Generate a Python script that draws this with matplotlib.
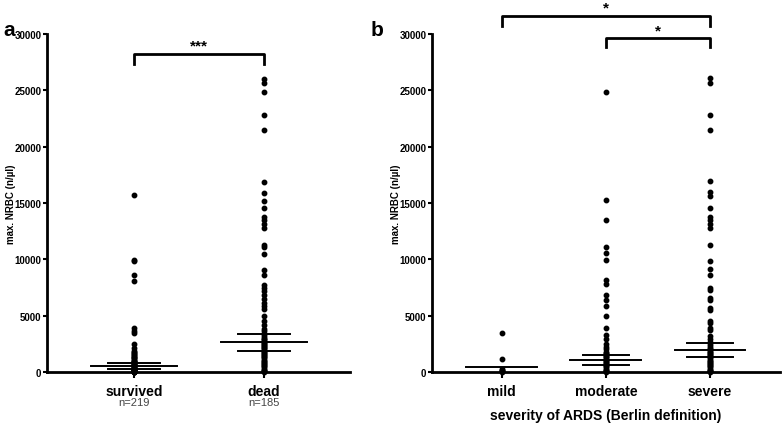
import numpy as np
import matplotlib
matplotlib.use("Agg")
import matplotlib.pyplot as plt

plt.rcParams['font.family'] = ['Liberation Sans', 'DejaVu Sans']

# ---- panel a: outcome ----
outcome_groups = ['survived', 'dead']
outcome_n = ['n=219', 'n=185']
survived = [15680, 9920, 9830, 8580, 8110, 3880, 3670, 3430, 2490,
            2100, 1900, 1800, 1700, 1600, 1500, 1400, 1300, 1250, 1200,
            1100, 1000, 950, 900, 850, 800, 750, 700, 650, 600, 550, 500,
            450, 400, 350, 300, 250, 200, 180, 150, 120, 100, 80, 60, 50,
            40, 30, 20, 10, 0]
dead = [26000, 25620, 24820, 22780, 21450, 16860, 15920, 15210, 14530,
        13730, 13520, 13140, 12760, 11300, 11060, 10470, 9080, 8580,
        7750, 7460, 7160, 6860, 6480, 6120, 5830, 5590, 5000, 4530, 4200,
        3820, 3600, 3400, 3200, 3000, 2900, 2800, 2700, 2600, 2500, 2400,
        2300, 2200, 2100, 2000, 1900, 1800, 1700, 1600, 1500, 1400, 1300,
        1200, 1100, 1000, 900, 800, 700, 600, 500, 400, 300, 200, 100,
        50, 0]
outcome_mean = [510, 2640]
outcome_sem = [250, 740]

# ---- panel b: ARDS severity ----
severity_groups = ['mild', 'moderate', 'severe']
mild = [3430, 1150, 300, 200, 100, 50, 0]
moderate = [24880, 15240, 13460, 11120, 10530, 9970, 8170, 7780, 6860,
            6360, 5860, 4970, 3880, 3280, 2930, 2490, 2190, 2000, 1800,
            1700, 1600, 1500, 1400, 1300, 1200, 1100, 1000, 900, 800, 700,
            600, 500, 400, 300, 200, 100, 50, 0]
severe = [26100, 25620, 22840, 21510, 16920, 16010, 15650, 14590, 13730,
          13520, 13110, 12780, 11300, 9850, 9140, 8580, 7480, 7280, 6570,
          6360, 5710, 5470, 4500, 4320, 3900, 3700, 3170, 2930, 2700, 2500,
          2300, 2100, 2000, 1900, 1800, 1700, 1600, 1500, 1400, 1300, 1200,
          1100, 1000, 900, 800, 700, 600, 500, 400, 300, 200, 100, 50, 0]
severity_mean = [440, 1090, 1980]
severity_sem = [0, 460, 630]

ylabel = 'max. NRBC (n/\u00b5l)'


def style_axis(ax, xlim):
    ax.set_xlim(*xlim)
    ax.set_ylim(0, 30000)
    ax.set_yticks([0, 5000, 10000, 15000, 20000, 25000, 30000])
    for s in ['top', 'right']:
        ax.spines[s].set_visible(False)
    ax.spines['left'].set_linewidth(2)
    ax.spines['bottom'].set_linewidth(2)
    ax.spines['left'].set_bounds(0, 30000)
    ax.tick_params(axis='y', direction='out', length=3, width=1.5,
                   labelsize=7, pad=1)
    ax.tick_params(axis='x', direction='out', length=4, width=1.5,
                   labelsize=10, pad=4.5)
    for lab in ax.get_yticklabels():
        lab.set_fontweight('bold')
    ax.set_ylabel(ylabel, fontsize=7, fontweight='bold', labelpad=-1)


def scatter_col(ax, x, vals, mean, sem, mw=0.33, sw=0.2):
    ax.plot([x] * len(vals), vals, 'o', color='black', ms=3.2,
            mec='black', clip_on=False, zorder=3)
    ax.plot([x - mw, x + mw], [mean, mean], color='black', lw=1.4, zorder=4)
    if sem > 0:
        for v in (mean - sem, mean + sem):
            ax.plot([x - sw, x + sw], [v, v], color='black', lw=1.4, zorder=4)


def bracket(ax, x0, x1, y, drop, label, ty):
    ax.plot([x0, x0, x1, x1], [y - drop, y, y, y - drop], color='black',
            lw=2, clip_on=False)
    ax.text((x0 + x1) / 2, ty, label, ha='center', va='center',
            fontsize=11, fontweight='bold', clip_on=False)


fig = plt.figure(figsize=(7.82, 4.27), dpi=100)
ax1 = fig.add_axes([0.060, 0.1265, 0.3876, 0.7915])
ax2 = fig.add_axes([0.5524, 0.1265, 0.4446, 0.7915])

# panel a
style_axis(ax1, (-0.67, 1.66))
for i, vals in enumerate([survived, dead]):
    scatter_col(ax1, i, vals, outcome_mean[i], outcome_sem[i])
ax1.set_xticks([0, 1])
ax1.set_xticklabels(outcome_groups, fontweight='bold')
for i, n in enumerate(outcome_n):
    ax1.text(i, -0.09, n, transform=ax1.get_xaxis_transform(), ha='center',
             va='center', fontsize=8, color='#444444')
bracket(ax1, 0, 1, 28230, 900, '***', 29000)
fig.text(0.004, 0.915, 'a', fontsize=15, fontweight='bold')

# panel b
style_axis(ax2, (-0.67, 2.67))
for i, vals in enumerate([mild, moderate, severe]):
    scatter_col(ax2, i, vals, severity_mean[i], severity_sem[i],
                mw=0.34, sw=0.22)
ax2.set_xticks([0, 1, 2])
ax2.set_xticklabels(severity_groups, fontweight='bold')
ax2.set_xlabel('severity of ARDS (Berlin definition)', fontsize=10,
               fontweight='bold', labelpad=7)
bracket(ax2, 0, 2, 31570, 830, '*', 32400)
bracket(ax2, 1, 2, 29620, 800, '*', 30300)
fig.text(0.474, 0.915, 'b', fontsize=15, fontweight='bold')

fig.savefig('out.png', dpi=100)
